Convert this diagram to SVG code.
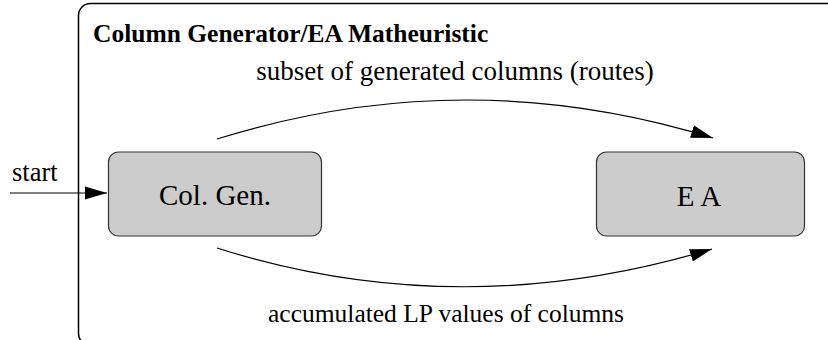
<svg xmlns="http://www.w3.org/2000/svg" width="828" height="340" viewBox="0 0 828 340">
<defs>
<marker id="ah" markerUnits="userSpaceOnUse" markerWidth="24" markerHeight="16" refX="22" refY="7" orient="auto">
<path d="M0,0.5 L22,7 L0,13.5 Z" fill="#000"/>
</marker>
<style>
text{font-family:"Liberation Serif","Times New Roman",serif;fill:#000}
.lbl{font-size:25.5px}
.node{fill:#cccccc;stroke:#333;stroke-width:1.2}
.nl{font-size:29px;text-anchor:middle}
.edge{fill:none;stroke:#000;stroke-width:1.2;marker-end:url(#ah)}
</style>
</defs>
<rect width="828" height="340" fill="#fff"/>
<g id="frame">
<rect x="78.5" y="3.5" width="800" height="342" rx="12" fill="none" stroke="#000" stroke-width="1.5"/>
<text x="93" y="42" font-size="25.5" font-weight="bold">Column Generator/EA Matheuristic</text>
</g>
<g id="colgen">
<rect class="node" x="108.5" y="152" width="213" height="84" rx="10"/>
<text class="nl" x="215" y="205">Col. Gen.</text>
</g>
<g id="ea">
<rect class="node" x="596.5" y="152" width="208" height="84" rx="10"/>
<text class="nl" x="699" y="206">E A</text>
</g>
<g id="connectors">
<line class="edge" x1="10" y1="193" x2="107" y2="193"/>
<path class="edge" d="M217,139 Q465,61.5 713,138"/>
<path class="edge" d="M217,248 Q460,325 712,249"/>
<text class="lbl" x="12" y="181" style="font-size:26.5px">start</text>
<text class="lbl" x="455" y="80" text-anchor="middle" style="font-size:27px">subset of generated columns (routes)</text>
<text class="lbl" x="446" y="322" text-anchor="middle">accumulated LP values of columns</text>
</g>
</svg>
